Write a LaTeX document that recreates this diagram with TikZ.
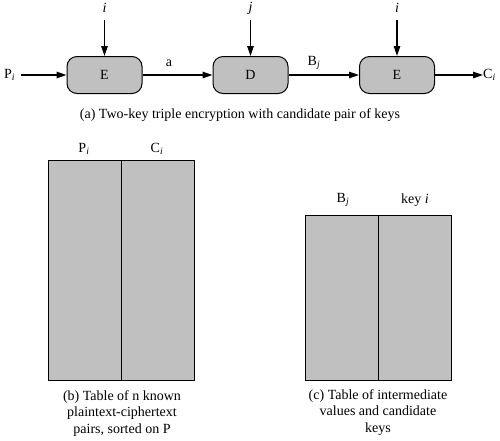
\documentclass[tikz,border=0pt]{standalone}
\usepackage{fontspec}
\setmainfont{Liberation Serif}
\usetikzlibrary{arrows.meta}
\definecolor{boxgray}{RGB}{192,192,192}
\newcommand{\sbi}[1]{\textsubscript{\textit{#1}}}
\begin{document}
\begin{tikzpicture}[x=1pt,y=-1pt,
  font=\fontsize{14}{16.5}\selectfont,
  op/.style={draw,line width=1pt,fill=boxgray,rounded corners=10pt,minimum width=75pt,minimum height=37pt,inner sep=0pt},
  arr/.style={line width=1.3pt,-{Triangle[length=10pt,width=6.5pt]}},
  tbl/.style={draw,line width=1pt,fill=boxgray,inner sep=0pt},
  lbl/.style={inner sep=0pt}]
\useasboundingbox (0,0) rectangle (500,440);
% (a)
\node[op] (e1) at (104.5,75) {E};
\node[op] (d) at (250.5,75) {D};
\node[op] (e2) at (397,75) {E};
\node[lbl,anchor=west] (pi) at (4,75) {P\sbi{i}};
\node[lbl,anchor=west] (ci) at (483,75) {C\sbi{i}};
\node[lbl] (k1) at (104.5,8) {\textit{i}};
\node[lbl] (k2) at (250.5,8) {\textit{j}};
\node[lbl] (k3) at (397,8) {\textit{i}};
\coordinate (k1b) at (104.5,20);
\coordinate (k2b) at (250.5,20);
\coordinate (k3b) at (397,20);
\coordinate (pis) at (21,75);
\draw[arr] (k1b) -- (e1.north);
\draw[arr] (k2b) -- (d.north);
\draw[arr] (k3b) -- (e2.north);
\draw[arr] (pis) -- (e1.west);
\draw[arr] (e1.east) -- (d.west);
\draw[arr] (d.east) -- (e2.west);
\draw[arr] (e2.east) -- (ci.west);
\node[lbl] (la) at (169,63) {a};
\node[lbl] (lb) at (314,63) {B\sbi{j}};
\node[lbl] (capa) at (240,115) {(a) Two-key triple encryption with candidate pair of keys};
% (b)
\node[tbl,minimum width=146pt,minimum height=220pt,anchor=north west] (bt) at (48,160) {};
\draw[line width=1pt] (bt.north) -- (bt.south);
\node[lbl] (bh1) at (84,149) {P\sbi{i}};
\node[lbl] (bh2) at (157,149) {C\sbi{i}};
\node[lbl,align=center,anchor=north] (capb) at (122,390) {(b) Table of n known\\plaintext-ciphertext\\pairs, sorted on P};
% (c)
\node[tbl,minimum width=146pt,minimum height=165pt,anchor=north west] (ct) at (305,215) {};
\draw[line width=1pt] (ct.north) -- (ct.south);
\node[lbl] (ch1) at (343,200) {B\sbi{j}};
\node[lbl] (ch2) at (415,200) {key \textit{i}};
\node[lbl,align=center,anchor=north] (capc) at (378,389) {(c) Table of intermediate\\values and candidate\\keys};
\end{tikzpicture}
\end{document}
